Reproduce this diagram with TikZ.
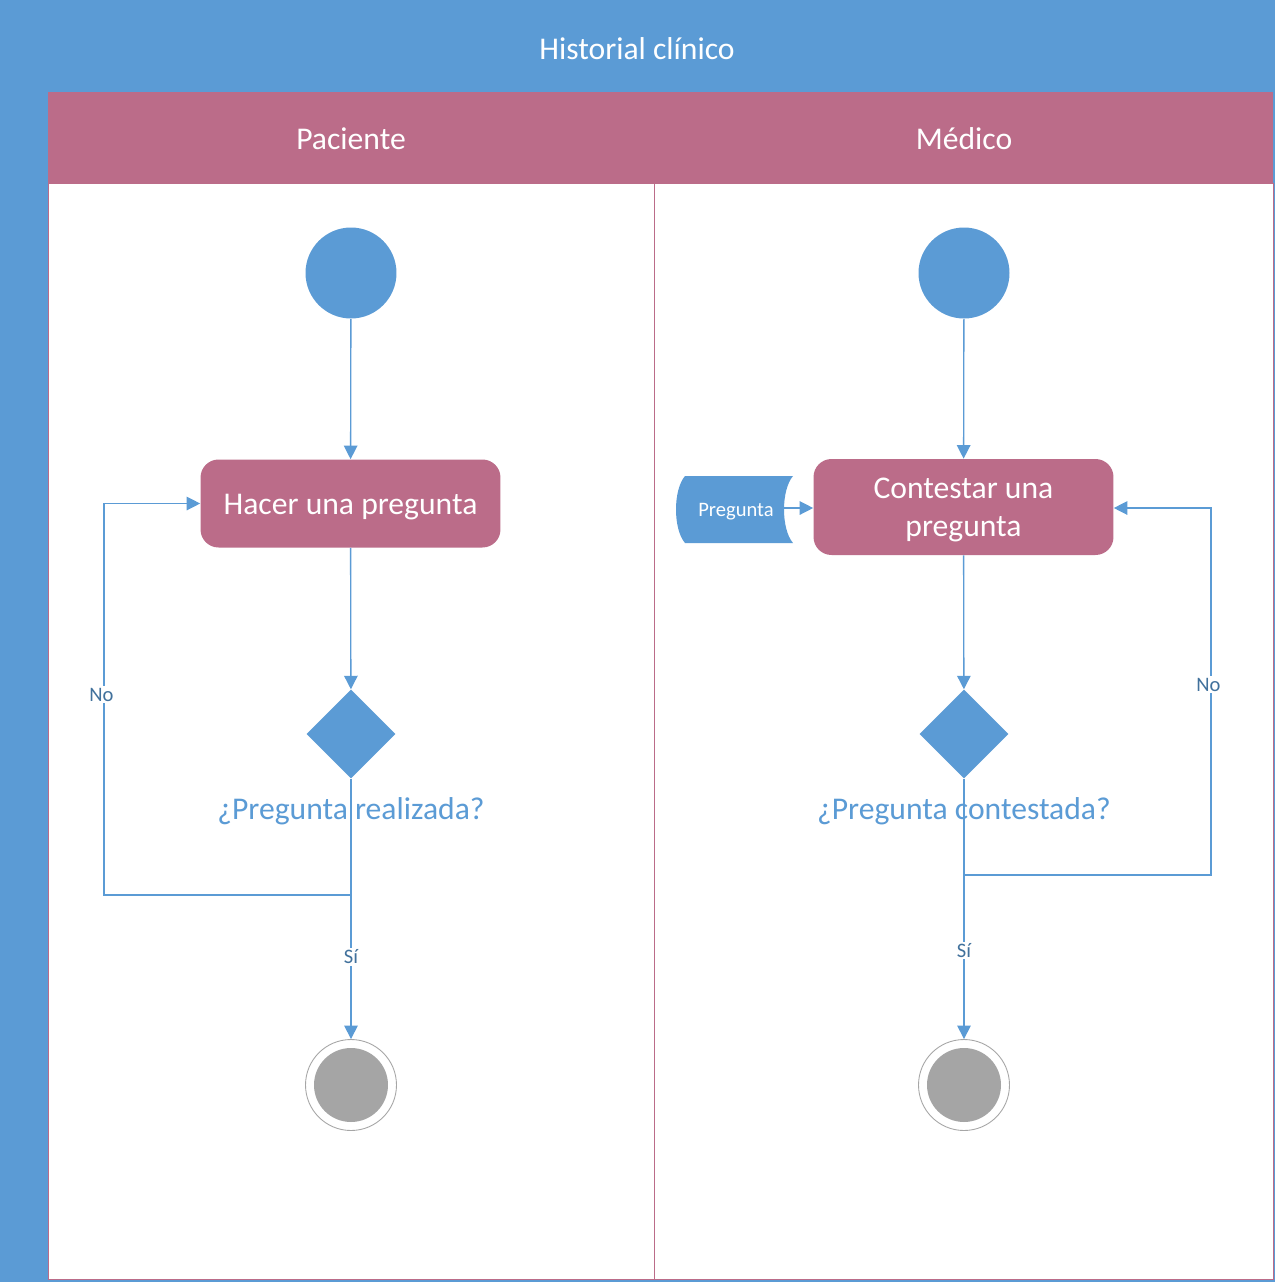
\documentclass[tikz,border=0pt]{standalone}
\usepackage{fontspec}
\setmainfont{Carlito}
\usetikzlibrary{shapes.geometric, arrows.meta}
\definecolor{poolblue}{RGB}{91,155,213}
\definecolor{lanepink}{RGB}{187,108,137}
\definecolor{labelblue}{RGB}{65,113,156}
\definecolor{endgray}{RGB}{165,165,165}
\newcommand{\lowertext}[1]{\raisebox{-0.065cm}[\height][\depth]{#1}}
\tikzstyle{startnode} = [circle, fill=poolblue, minimum size=1.82cm, inner sep=0]
\tikzstyle{action} = [rectangle, rounded corners=0.36cm, fill=lanepink, text=white, minimum width=6cm, align=center, font=\fontsize{18}{21.5}\selectfont]
\tikzstyle{decision} = [diamond, fill=poolblue, minimum size=1.78cm, inner sep=0]
\tikzstyle{endnode} = [circle, draw=gray!70, line width=0.5pt, fill=white, minimum size=1.82cm, inner sep=0, path picture={\fill[endgray] (path picture bounding box.center) circle (0.74cm);}]
\tikzstyle{header} = [text=white, font=\fontsize{18}{22}\selectfont]
\tikzstyle{question} = [text=poolblue, font=\fontsize{18}{22}\selectfont]
\tikzstyle{lbl} = [fill=white, text=labelblue, inner sep=1pt, font=\fontsize{11.7}{14}\selectfont]
\tikzstyle{arrow} = [draw=poolblue, line width=0.75pt, -{Triangle[length=0.27cm, width=0.27cm]}]
\tikzstyle{line} = [draw=poolblue, line width=0.75pt]

\begin{document}
\begin{tikzpicture}[x=0.02cm, y=-0.02cm]

    \useasboundingbox (0,0) rectangle (1275,1282);

    % Pool and lanes
    \fill[poolblue] (0,0) rectangle (1275,1282);
    \fill[lanepink] (48,92) rectangle (1273,183);
    \filldraw[fill=white, draw=lanepink, line width=0.5pt] (48,183) rectangle (1273,1279);
    \draw[lanepink, line width=0.5pt] (654,183) -- (654,1279);
    \draw[poolblue, line width=0.6pt] (0.3,0.3) rectangle (1274.7,1281.7);

    \node (title) [header] at (637,49) {Historial clínico};
    \node (paciente) [header] at (351,139) {Paciente};
    \node (medico) [header] at (964,139) {Médico};

    % Nodes
    \node (start1) [startnode] at (351,273) {};
    \node (hacer) [action, minimum height=1.76cm] at (350.5,503.5) {\lowertext{Hacer una pregunta}};
    \node (dec1) [decision] at (351,734) {};
    \node (q1) [question] at (351,811) {¿Pregunta realizada?};
    \node (end1) [endnode] at (351,1085) {};

    \node (start2) [startnode] at (964,273) {};
    \node (contestar) [action, minimum height=1.92cm] at (963.5,507)
        {\lowertext{\begin{tabular}{@{}c@{}}Contestar una\\pregunta\end{tabular}}};
    \node (dec2) [decision] at (964,734) {};
    \node (q2) [question] at (964,811) {¿Pregunta contestada?};
    \node (end2) [endnode] at (964,1085) {};

    \fill[poolblue] (685,476) -- (793,476) .. controls (781,490) and (781,529) .. (793,543)
        -- (685,543) .. controls (673,529) and (673,490) .. (685,476);
    \node (pregunta) [text=white, font=\fontsize{11.7}{14}\selectfont] at (736,512) {Pregunta};

    \coordinate (j1) at (351,895);
    \coordinate (n1) at (104,895);
    \coordinate (j2) at (964,875);
    \coordinate (n2) at (1211,875);

    % Arrows
    \draw [arrow] (start1) -- (hacer);
    \draw [arrow] (hacer) -- (dec1);
    \draw [line] (dec1) -- (j1);
    \draw [arrow] (j1) -- node[lbl, pos=0.43] {Sí} (end1);
    \draw [arrow] (j1) -- (n1) |- node[lbl, pos=0.256, xshift=-0.05cm] {No} (hacer.west);

    \draw [arrow] (start2) -- (contestar);
    \draw [arrow] (pregunta.east |- 0,508) -- (contestar.west |- 0,508);
    \draw [arrow] (contestar) -- (dec2);
    \draw [line] (dec2) -- (j2);
    \draw [arrow] (j2) -- node[lbl, pos=0.46] {Sí} (end2);
    \draw [arrow] (j2) -- (n2) |- node[lbl, pos=0.259, xshift=-0.05cm] {No} (contestar.east |- 0,508);

\end{tikzpicture}
\end{document}
